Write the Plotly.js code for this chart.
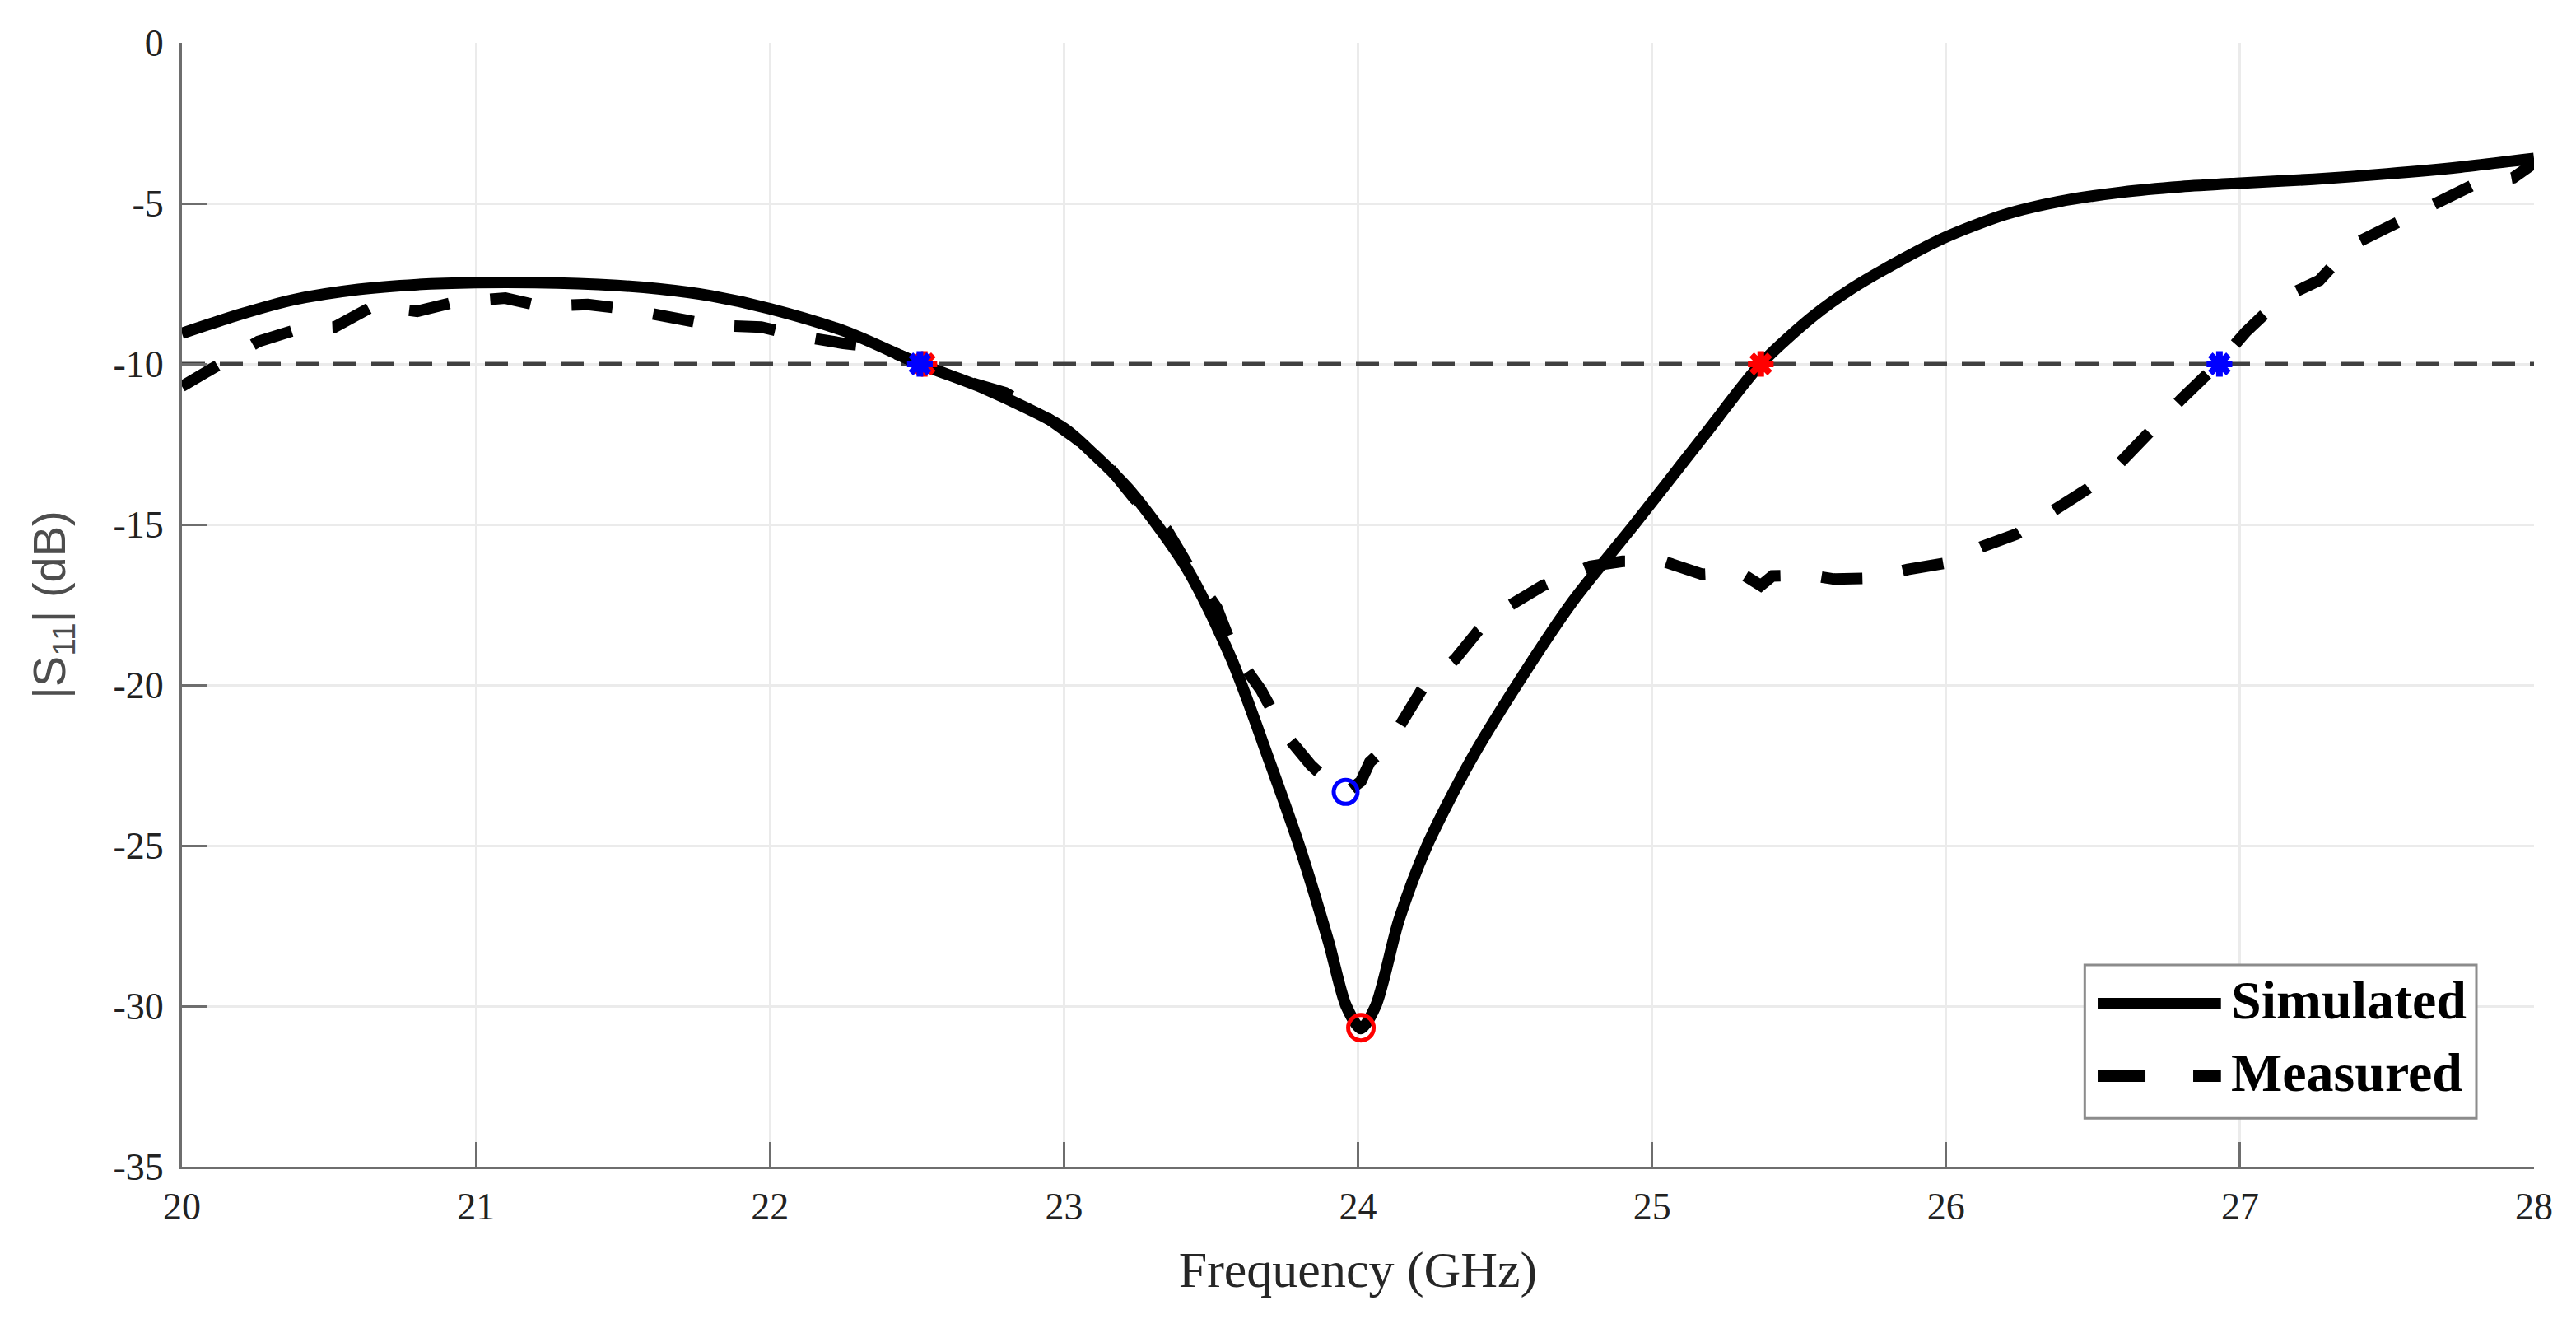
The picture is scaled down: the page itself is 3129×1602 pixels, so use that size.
<!DOCTYPE html>
<html>
<head>
<meta charset="utf-8">
<script src="https://cdn.plot.ly/plotly-3.0.1.min.js"></script>
<style>
  html, body { margin: 0; padding: 0; background: #fff; }
  #chart { width: 3129px; height: 1602px; }
</style>
</head>
<body>
<div id="chart"></div>
<script>
// |S11| of the antenna, simulated vs measured
const simFreq = [20.0, 20.2, 20.38, 20.6, 20.8, 21.0, 21.2, 21.48, 21.62, 21.8,
  22.0, 22.26, 22.51, 22.73, 23.0, 23.1, 23.23, 23.42, 23.57, 23.7, 23.8,
  23.9, 23.96, 24.01, 24.06, 24.14, 24.235, 24.38, 24.54, 24.73, 24.94,
  25.18, 25.37, 25.55, 25.68, 25.85, 26.0, 26.2, 26.38, 26.6, 26.8,
  27.0, 27.25, 27.5, 27.75, 28.0];
const simS11 = [-9.05, -8.45, -8.0, -7.68, -7.53, -7.47, -7.47, -7.56, -7.66, -7.88,
  -8.28, -9.0, -10.0, -10.77, -12.0, -12.8, -14.0, -16.4, -19.2, -22.4, -25.0,
  -28.0, -30.0, -30.7, -30.0, -27.3, -25.0, -22.4, -20.0, -17.4, -15.0,
  -12.2, -10.0, -8.5, -7.65, -6.75, -6.05, -5.35, -4.95, -4.65, -4.48,
  -4.37, -4.25, -4.08, -3.87, -3.6];

const measFreq = [20.0, 20.11, 20.26, 20.4, 20.52, 20.65, 20.8, 20.93, 21.1, 21.22,
  21.38, 21.52, 21.67, 21.81, 21.97, 22.1, 22.25, 22.38, 22.51, 22.65,
  22.8, 22.9, 23.03, 23.13, 23.24, 23.35, 23.43, 23.52, 23.58, 23.67,
  23.75, 23.84, 23.9, 23.96, 24.01, 24.04, 24.1, 24.15, 24.22, 24.33,
  24.41, 24.52, 24.63, 24.71, 24.79, 24.9, 25.04, 25.17, 25.3, 25.37,
  25.41, 25.53, 25.62, 25.75, 25.87, 26.0, 26.12, 26.24, 26.35, 26.48,
  26.59, 26.71, 26.8, 26.93, 27.02, 27.14, 27.27, 27.38, 27.51, 27.66,
  27.79, 27.93, 28.0];
const measS11 = [-10.7, -10.1, -9.3, -8.9, -8.85, -8.2, -8.36, -8.07, -7.95, -8.2,
  -8.15, -8.3, -8.54, -8.8, -8.85, -9.13, -9.36, -9.49, -10.0, -10.5,
  -10.9, -11.4, -12.25, -12.95, -14.2, -15.17, -16.4, -17.6, -19.0, -20.15,
  -21.5, -22.5, -23.0, -23.35, -23.0, -22.4, -21.9, -21.2, -20.1, -19.2,
  -18.3, -17.5, -16.9, -16.6, -16.3, -16.15, -16.15, -16.55, -16.5, -16.9,
  -16.6, -16.57, -16.7, -16.67, -16.4, -16.2, -15.7, -15.3, -14.7, -13.9,
  -13.1, -11.9, -11.1, -9.95, -9.0, -7.96, -7.4, -6.3, -5.7, -4.95,
  -4.44, -4.2, -3.75];

// -10 dB reference level and the marked points
const threshold = -10;
const freqRange = [20, 28];
const simCrossFreq = [22.525, 25.37];
const measCrossFreq = [22.51, 26.93];
const simMinFreq = [24.01];
const simMinS11 = [-30.67];
const measMinFreq = [23.958];
const measMinS11 = [-23.33];

// axis ticks (hyphen minus, as in the original figure)
const yTickVals = [0, -5, -10, -15, -20, -25, -30, -35];
const yTickText = ["0", "-5", "-10", "-15", "-20", "-25", "-30", "-35"];

const seriesNames = ["Simulated", "Measured"];

const serif = "Liberation Serif, Times New Roman, serif";
const measDash = "50px,50px";

const traces = [
  {
    x: freqRange,
    y: freqRange.map(() => threshold),
    mode: "lines",
    line: { color: "#404040", width: 5, dash: "28px,18px" },
    hoverinfo: "skip",
  },
  {
    x: measFreq,
    y: measS11,
    name: seriesNames[1],
    mode: "lines",
    line: { color: "#000", width: 14, dash: measDash },
  },
  {
    x: simFreq,
    y: simS11,
    name: seriesNames[0],
    mode: "lines",
    line: { color: "#000", width: 14, shape: "spline", smoothing: 0.8 },
  },
  {
    x: simCrossFreq,
    y: simCrossFreq.map(() => threshold),
    mode: "markers",
    marker: { symbol: "asterisk-open", size: 26, color: "#ff0000", line: { color: "#ff0000", width: 8 } },
  },
  {
    x: measCrossFreq,
    y: measCrossFreq.map(() => threshold),
    mode: "markers",
    marker: { symbol: "asterisk-open", size: 26, color: "#0000ff", line: { color: "#0000ff", width: 8 } },
  },
  {
    x: simMinFreq,
    y: simMinS11,
    mode: "markers",
    marker: { symbol: "circle-open", size: 31, color: "#ff0000", line: { color: "#ff0000", width: 5 } },
  },
  {
    x: measMinFreq,
    y: measMinS11,
    mode: "markers",
    marker: { symbol: "circle-open", size: 29, color: "#0000ff", line: { color: "#0000ff", width: 5 } },
  },
];

// legend drawn by hand so the long MATLAB-style samples show the dash
const legendBox = { x0: 0.809, x1: 0.9755, y0: 0.043, y1: 0.1795 };
const legendRows = [0.145, 0.0806];
const legendShapes = [
  {
    type: "rect", xref: "paper", yref: "paper",
    x0: legendBox.x0, x1: legendBox.x1, y0: legendBox.y0, y1: legendBox.y1,
    line: { color: "#8c8c8c", width: 3 }, fillcolor: "#fff",
  },
  {
    type: "line", xref: "paper", yref: "paper",
    x0: 0.8145, x1: 0.8669, y0: legendRows[0], y1: legendRows[0],
    line: { color: "#000", width: 14 },
  },
  {
    type: "line", xref: "paper", yref: "paper",
    x0: 0.8145, x1: 0.8669, y0: legendRows[1], y1: legendRows[1],
    line: { color: "#000", width: 14, dash: "58px,58px" },
  },
];
const legendText = seriesNames.map((name, i) => ({
  xref: "paper", yref: "paper",
  x: 0.8705, y: legendRows[i] + 0.003,
  xanchor: "left", yanchor: "middle",
  text: "<b>" + name + "</b>",
  showarrow: false,
  font: { family: serif, size: 66, color: "#000" },
}));

const layout = {
  width: 3129,
  height: 1602,
  margin: { l: 221, r: 51, t: 52, b: 185 },
  paper_bgcolor: "#fff",
  plot_bgcolor: "#fff",
  showlegend: false,
  xaxis: {
    range: freqRange,
    dtick: 1,
    tick0: 20,
    showgrid: true,
    gridcolor: "#ebebeb",
    gridwidth: 3,
    zeroline: false,
    showline: true,
    linecolor: "#6e6e6e",
    linewidth: 3,
    ticks: "inside",
    ticklen: 30,
    tickwidth: 3,
    tickcolor: "#6e6e6e",
    ticklabelstandoff: 6,
    tickfont: { family: serif, size: 46, color: "#222" },
    title: {
      text: "Frequency (GHz)",
      standoff: 30,
      font: { family: serif, size: 62, color: "#262626" },
    },
  },
  yaxis: {
    range: [-35, 0],
    tickmode: "array",
    tickvals: yTickVals,
    ticktext: yTickText,
    showgrid: true,
    gridcolor: "#ebebeb",
    gridwidth: 3,
    zeroline: false,
    showline: true,
    linecolor: "#6e6e6e",
    linewidth: 3,
    ticks: "inside",
    ticklen: 30,
    tickwidth: 3,
    tickcolor: "#6e6e6e",
    ticklabelstandoff: 10,
    tickfont: { family: serif, size: 46, color: "#222" },
    title: {
      text: "|S<sub>11</sub>| (dB)",
      standoff: 40,
      font: { family: "Liberation Sans, Arial, sans-serif", size: 56, color: "#4d4d4d" },
    },
  },
  shapes: legendShapes,
  annotations: legendText,
};

Plotly.newPlot("chart", traces, layout, { staticPlot: true, displayModeBar: false });
</script>
</body>
</html>
